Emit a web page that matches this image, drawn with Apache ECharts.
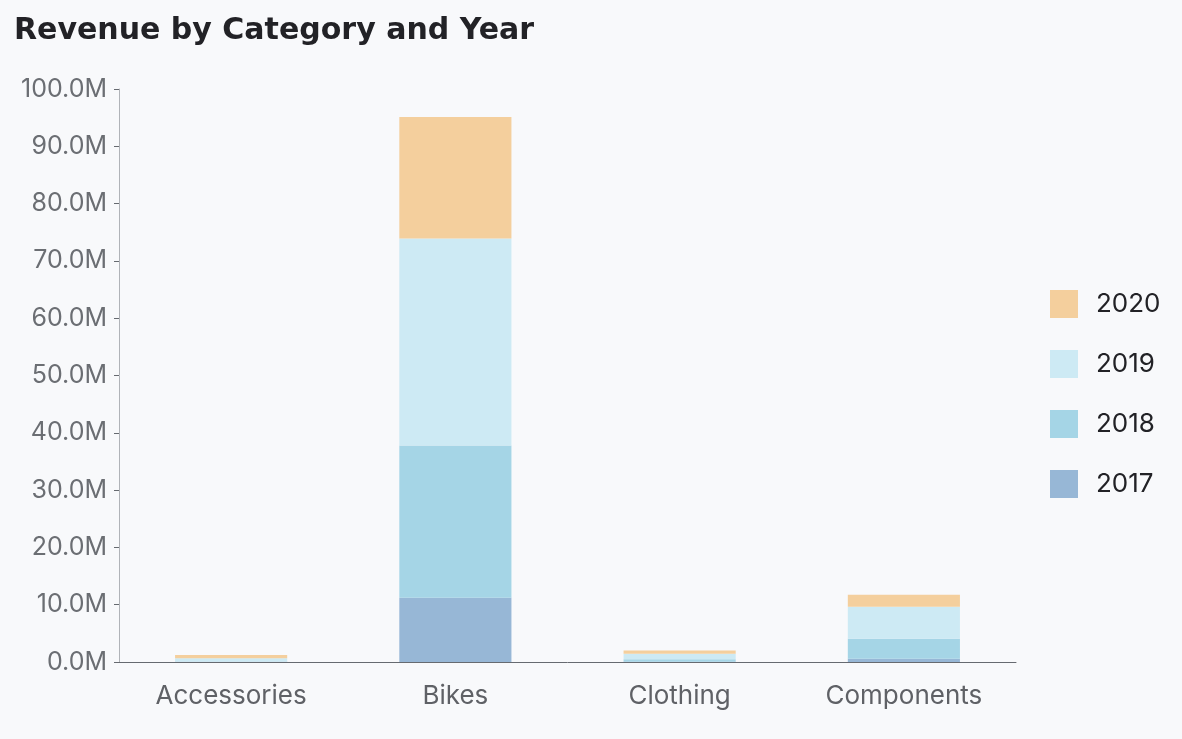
<!DOCTYPE html>
<html><head><meta charset="utf-8">
<script src="https://cdn.jsdelivr.net/npm/echarts@6/dist/echarts.min.js"></script>
<style>html,body{margin:0;padding:0;background:#f8f9fb;}#c{width:1182px;height:739px;}</style>
</head><body><div id="c"></div>
<script>
const categories = ['Accessories', 'Bikes', 'Clothing', 'Components'];
const years = ['2017', '2018', '2019', '2020'];
const rev2017 = [30000, 11200000, 50000, 550000];
const rev2018 = [60000, 26600000, 450000, 3500000];
const rev2019 = [560000, 36100000, 950000, 5600000];
const rev2020 = [550000, 21200000, 550000, 2100000];
const colors = {'2017': '#97b7d6', '2018': '#a5d5e6', '2019': '#cdeaf4', '2020': '#f4cf9d'};
const values = {'2017': rev2017, '2018': rev2018, '2019': rev2019, '2020': rev2020};

const chart = echarts.init(document.getElementById('c'));
chart.setOption({
  backgroundColor: '#f8f9fb',
  title: {
    text: 'Revenue by Category and Year', left: 9, top: 11,
    textStyle: {fontFamily: 'DejaVu Sans', fontSize: 30, fontWeight: 'bold', color: '#222226'}
  },
  legend: {
    orient: 'vertical', left: 1045, top: 285,
    data: ['2020', '2019', '2018', '2017'],
    itemWidth: 28, itemHeight: 28, itemGap: 32, icon: 'rect',
    textStyle: {fontFamily: 'Inter', fontSize: 26, color: '#222226', padding: [0, 0, 0, 13]}
  },
  grid: {left: 119, right: 166, top: 89, bottom: 77},
  xAxis: {
    type: 'category', data: categories,
    axisLine: {lineStyle: {color: '#666a70'}},
    axisTick: {alignWithLabel: true, length: 6, lineStyle: {color: '#666a70', width: 2}},
    axisLabel: {fontFamily: 'Inter', fontSize: 26, color: '#5f6166', margin: 21}
  },
  yAxis: {
    type: 'value', min: 0, max: 100000000, interval: 10000000,
    splitLine: {show: false},
    axisLine: {show: true, lineStyle: {color: '#b0b3b8'}},
    axisTick: {show: true, length: 5, lineStyle: {color: '#666a70'}},
    axisLabel: {fontFamily: 'Inter', fontSize: 25, color: '#6b6e73', margin: 12,
      formatter: v => (v / 1e6).toFixed(1) + 'M'}
  },
  series: years.map(y => ({
    name: y, type: 'bar', stack: 'total', barWidth: '50%',
    itemStyle: {color: colors[y]},
    data: values[y]
  }))
});
</script></body></html>
